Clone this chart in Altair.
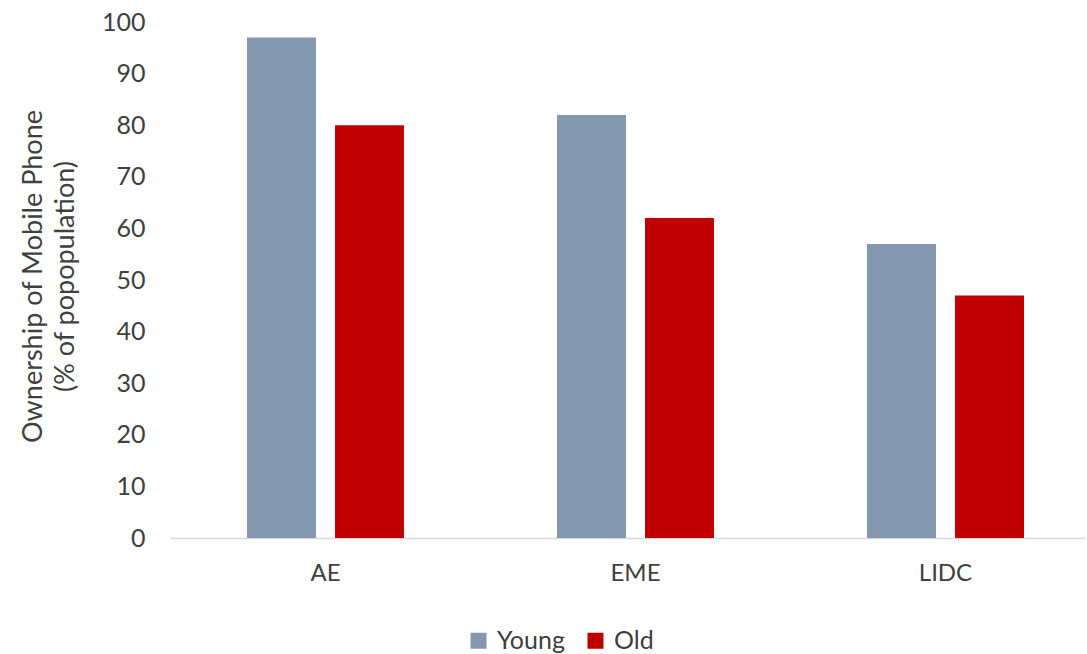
import altair as alt
import pandas as pd

# Mobile phone ownership by region and age group
regions = ["AE", "EME", "LIDC"]
groups = ["Young", "Old"]
young = [97, 82, 57]
old = [80, 62, 47]
colors = ["#8497B0", "#C00000"]

rows = []
for r, y, o in zip(regions, young, old):
    rows.append({"region": r, "group": "Young", "value": y})
    rows.append({"region": r, "group": "Old", "value": o})
df = pd.DataFrame(rows)

FONT = "Lato"
TEXT = "#404040"

chart = alt.Chart(df).mark_bar().encode(
    x=alt.X(
        "region:N", sort=regions, title=None,
        scale=alt.Scale(paddingInner=0.4935, paddingOuter=0.2226, align=0.558),
        axis=alt.Axis(labelAngle=0, ticks=False, labelPadding=23,
                      domainColor="#D9D9D9", domainWidth=1.5,
                      labelFontSize=24, labelColor=TEXT, labelFont=FONT),
    ),
    xOffset=alt.XOffset("group:N", sort=groups,
                        scale=alt.Scale(paddingInner=0.216, paddingOuter=0)),
    y=alt.Y(
        "value:Q", scale=alt.Scale(domain=[0, 100]),
        axis=alt.Axis(values=list(range(0, 101, 10)), grid=False, domain=False,
                      ticks=False, labelPadding=25, labelFontSize=25,
                      labelColor=TEXT, labelFont=FONT,
                      title=["Ownership of Mobile Phone", "(% of popopulation)"],
                      titleFont=FONT, titleFontSize=27, titleFontWeight="normal",
                      titleColor=TEXT, titleX=-137, titleY=254,
                      titleBaseline="middle", titleAlign="center",
                      titleLineHeight=32, titleAngle=270),
    ),
    color=alt.Color(
        "group:N", sort=groups,
        scale=alt.Scale(domain=groups, range=colors),
        legend=alt.Legend(orient="none", legendX=296, legendY=606,
                          direction="horizontal", title=None,
                          symbolType="square", symbolSize=256,
                          symbolStrokeWidth=0, labelFont=FONT,
                          labelFontSize=25, labelColor=TEXT,
                          columnPadding=18, labelOffset=6),
    ),
).properties(
    width=915,
    height=516,
    padding={"left": 170, "top": 22, "right": 2, "bottom": 116},
    autosize=alt.AutoSizeParams(type="none"),
).configure_view(stroke=None)

chart.save("out.html", embed_options={"renderer": "svg", "actions": False})
